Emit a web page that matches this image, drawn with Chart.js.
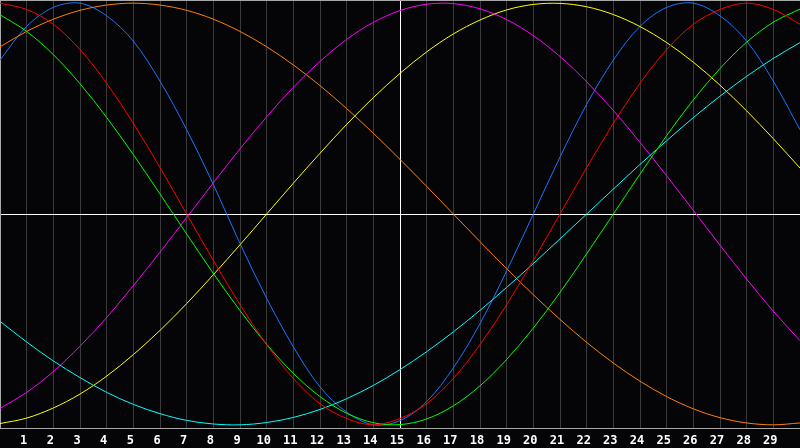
<!DOCTYPE html>
<html>
<head>
<meta charset="utf-8">
<script src="https://cdn.jsdelivr.net/npm/chart.js@4/dist/chart.umd.min.js"></script>
<style>
    html, body { margin: 0; padding: 0; background: #050508; }
    #wrap { width: 800px; height: 448px; }
</style>
</head>
<body>
<div id="wrap"><canvas id="bio"></canvas></div>
<script>
// days 0..30, labels shown 1..29
const days = Array.from({length: 31}, (_, i) => i)
const todayIndex = 15

// values, one per day
const red = [1.00, 0.97, 0.90, 0.78, 0.62, 0.43, 0.22, 0.00, -0.22, -0.43, -0.62, -0.78, -0.90, -0.97, -1.00, -0.97,
    -0.90, -0.78, -0.62, -0.43, -0.22, 0.00, 0.22, 0.43, 0.62, 0.78, 0.90, 0.97, 1.00, 0.97, 0.90]
const green = [0.945, 0.866, 0.756, 0.618, 0.458, 0.282, 0.095, -0.095, -0.282, -0.458, -0.618, -0.756, -0.866, -0.945, -0.990, -0.999,
    -0.972, -0.910, -0.815, -0.690, -0.541, -0.372, -0.189, 0.000, 0.189, 0.372, 0.541, 0.690, 0.815, 0.910, 0.972]
const blue = [0.73, 0.89, 0.98, 1.00, 0.94, 0.82, 0.63, 0.40, 0.14, -0.14, -0.40, -0.63, -0.82, -0.94, -1.00, -0.98,
    -0.89, -0.73, -0.52, -0.27, 0.00, 0.27, 0.52, 0.73, 0.89, 0.98, 1.00, 0.94, 0.82, 0.63, 0.40]
const orange = [0.793, 0.866, 0.924, 0.966, 0.991, 1.000, 0.991, 0.966, 0.924, 0.866, 0.793, 0.707, 0.609, 0.500, 0.383, 0.259,
    0.131, 0.000, -0.131, -0.259, -0.383, -0.500, -0.609, -0.707, -0.793, -0.866, -0.924, -0.966, -0.991, -1.000, -0.991]
const yellow = [-0.994, -0.968, -0.920, -0.854, -0.769, -0.667, -0.552, -0.425, -0.288, -0.146, 0.000, 0.146, 0.288, 0.425, 0.552, 0.667,
    0.769, 0.854, 0.920, 0.968, 0.994, 0.999, 0.983, 0.946, 0.889, 0.813, 0.720, 0.611, 0.489, 0.357, 0.218]
const magenta = [-0.922, -0.846, -0.747, -0.627, -0.491, -0.340, -0.181, -0.017, 0.148, 0.309, 0.461, 0.601, 0.724, 0.828, 0.909, 0.965,
    0.995, 0.998, 0.973, 0.922, 0.846, 0.747, 0.627, 0.491, 0.340, 0.181, 0.017, -0.148, -0.309, -0.461, -0.601]
const cyan = [-0.509, -0.607, -0.697, -0.776, -0.846, -0.903, -0.947, -0.979, -0.996, -1.000, -0.989, -0.965, -0.927, -0.876, -0.813, -0.738,
    -0.653, -0.559, -0.457, -0.348, -0.235, -0.118, 0.000, 0.118, 0.235, 0.348, 0.457, 0.559, 0.653, 0.738, 0.813]

const series = [
    {data: red, color: "#ff0000"},
    {data: green, color: "#00ff00"},
    {data: cyan, color: "#00ffff"},
    {data: magenta, color: "#ff00ff"},
    {data: yellow, color: "#ffff00"},
    {data: orange, color: "#ff8000"},
    {data: blue, color: "#1a74ff"},
]

const frame = {
    id: "frame",
    beforeDraw(chart) {
        const c = chart.ctx
        c.save()
        c.fillStyle = "#050508"
        c.fillRect(0, 0, chart.width, chart.height)
        c.restore()
    },
    afterDraw(chart) {
        const c = chart.ctx
        const a = chart.chartArea
        c.save()
        c.strokeStyle = "#a8a8a8"
        c.lineWidth = 1
        c.beginPath()
        c.moveTo(a.left, a.top + 0.5)
        c.lineTo(a.right, a.top + 0.5)
        c.stroke()
        c.restore()
    }
}

new Chart(document.getElementById("bio"), {
    type: "line",
    data: {
        labels: days,
        datasets: series.map(s => ({
            label: "",
            data: s.data,
            borderColor: s.color,
            borderWidth: 1,
            pointRadius: 0,
            tension: 0.33,
            fill: false
        }))
    },
    options: {
        responsive: true,
        maintainAspectRatio: false,
        animation: false,
        events: [],
        layout: {padding: 0},
        scales: {
            x: {
                offset: false,
                grid: {
                    drawTicks: false,
                    color: ctx => {
                        if (ctx.index === todayIndex) return "#ffffff"
                        if (ctx.index === 0 || ctx.index === days.length - 1) return "rgba(0,0,0,0)"
                        return "#3a3a3a"
                    }
                },
                border: {color: "#a8a8a8", width: 1},
                ticks: {
                    color: "#ffffff",
                    font: {family: "DejaVu Sans Mono", weight: "bold", size: 12},
                    padding: 6,
                    labelOffset: -3,
                    maxRotation: 0,
                    autoSkip: false,
                    callback: (value, index) => (index === 0 || index === days.length - 1) ? "" : days[index]
                },
                afterFit: scale => {
                    scale.height = 20
                    scale.paddingLeft = 0
                    scale.paddingRight = 0
                }
            },
            y: {
                min: -1.015,
                max: 1.015,
                afterBuildTicks: scale => { scale.ticks = [{value: 0}] },
                grid: {
                    drawTicks: false,
                    color: "#ffffff"
                },
                border: {color: "#a8a8a8", width: 1},
                ticks: {display: false},
                afterFit: scale => {
                    scale.width = 0
                    scale.paddingTop = 0
                    scale.paddingBottom = 0
                }
            }
        },
        plugins: {
            legend: {display: false},
            tooltip: {enabled: false}
        }
    },
    plugins: [frame]
})
</script>
</body>
</html>
